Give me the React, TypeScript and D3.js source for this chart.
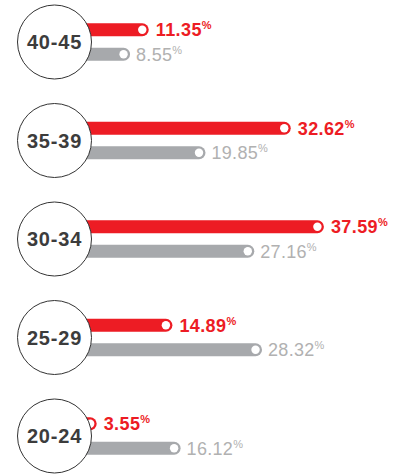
import React from "react";
import * as d3 from "d3";

const ageGroups = ["40-45", "35-39", "30-34", "25-29", "20-24"];
const redValues = [11.35, 32.62, 37.59, 14.89, 3.55];
const grayValues = [8.55, 19.85, 27.16, 28.32, 16.12];

const RED = "#ed1c24";
const GRAY = "#a7a9ac";
const GRAY_TEXT = "#b1b1b1";

const W = 411;
const H = 475;

const App = () => {
  const x = d3.scaleLinear().domain([0, 40]).range([73, 340]);
  const y = d3
    .scaleBand<string>()
    .domain(ageGroups)
    .range([-7.25, 485.25])
    .paddingInner(0)
    .align(0.5);

  const barH = 13;
  const gap = 24.5;
  const r = 37;
  const font = "'Liberation Sans', Arial, Helvetica, sans-serif";

  const bar = (v: number, cy: number, color: string) => {
    const x1 = x(v);
    const x0 = 50;
    const path = d3.path();
    path.moveTo(x0, cy - barH / 2);
    path.lineTo(x1 - barH / 2, cy - barH / 2);
    path.arc(x1 - barH / 2, cy, barH / 2, -Math.PI / 2, Math.PI / 2);
    path.lineTo(x0, cy + barH / 2);
    path.closePath();
    return (
      <g>
        <path d={path.toString()} fill={color} />
        <circle cx={x1 - barH / 2} cy={cy} r={4.2} fill="#fff" />
      </g>
    );
  };

  return (
    <svg
      width={W}
      height={H}
      style={{ position: "absolute", left: 0, top: 0, background: "#fff" }}
    >
      {ageGroups.map((g, i) => {
        const cy = (y(g) as number) + y.bandwidth() / 2;
        const redY = cy - gap / 2;
        const grayY = cy + gap / 2;
        return (
          <g key={g}>
            {bar(redValues[i], redY, RED)}
            {bar(grayValues[i], grayY, GRAY)}
            <text
              x={x(redValues[i]) + 7}
              y={redY + 6.5}
              fill={RED}
              fontFamily={font}
              fontWeight="bold"
              fontSize={18}
              letterSpacing={0.4}
            >
              {redValues[i].toFixed(2)}
              <tspan fontSize={11} dy={-7} letterSpacing={0}>%</tspan>
            </text>
            <text
              x={x(grayValues[i]) + 6}
              y={grayY + 6.5}
              fill={GRAY_TEXT}
              fontFamily={font}
              fontSize={18}
              letterSpacing={0.3}
            >
              {grayValues[i].toFixed(2)}
              <tspan fontSize={11} dy={-7} letterSpacing={0}>%</tspan>
            </text>
            <circle cx={54.5} cy={cy} r={r} fill="#fff" stroke="#333" strokeWidth={1} />
            <text
              x={54.5}
              y={cy + 7}
              textAnchor="middle"
              fill="#3c3c3c"
              fontFamily={font}
              fontWeight="bold"
              fontSize={20}
              letterSpacing={0.8}
            >
              {g}
            </text>
          </g>
        );
      })}
    </svg>
  );
};

export default App;
